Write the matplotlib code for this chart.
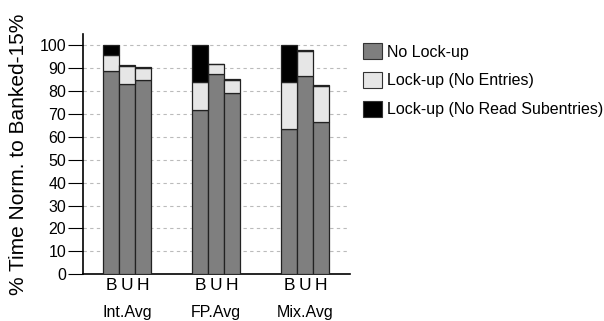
import numpy as np
import matplotlib.pyplot as plt
from matplotlib.patches import Patch

plt.rcParams['font.family'] = ['Liberation Sans', 'DejaVu Sans']

groups = ['Int.Avg', 'FP.Avg', 'Mix.Avg']
configs = ['B', 'U', 'H']

# stacked components per group, ordered B, U, H
no_lockup = [[89.0, 83.3, 85.0], [71.6, 87.5, 79.4], [63.3, 86.6, 66.5]]
lockup_no_entries = [[7.0, 7.5, 5.1], [12.4, 4.2, 5.6], [20.7, 10.9, 15.7]]
lockup_no_subentries = [[4.0, 0.5, 0.4], [16.0, 0.4, 0.4], [16.0, 0.5, 0.5]]

series_names = ['No Lock-up', 'Lock-up (No Entries)', 'Lock-up (No Read Subentries)']
series_colors = ['#7f7f7f', '#e6e6e6', '#000000']

fig = plt.figure(figsize=(6.04, 3.21), dpi=100)
ax = fig.add_axes([0.137, 0.146, 0.442, 0.748])

width = 0.18
offsets = np.array([-1, 0, 1]) * width
for g in range(len(groups)):
    x = g + offsets
    bottom = np.zeros(3)
    for vals, col in zip([no_lockup, lockup_no_entries, lockup_no_subentries], series_colors):
        v = np.array(vals[g])
        ax.bar(x, v, width, bottom=bottom, color=col, edgecolor='#222222', linewidth=0.9, zorder=3)
        bottom += v

ax.set_xlim(-0.5, 2.5)
ax.set_ylim(0, 105)
ax.set_yticks(np.arange(0, 101, 10))
ax.tick_params(axis='y', labelsize=11.5, length=11, width=0.8, pad=1)
ax.yaxis.grid(True, linestyle=(0, (3, 3)), color='#bbbbbb', linewidth=0.8, zorder=0)
ax.set_axisbelow(True)

xt = np.concatenate([g + offsets for g in range(len(groups))])
ax.set_xticks(xt)
ax.set_xticklabels(configs * len(groups), fontsize=12.5)
ax.tick_params(axis='x', length=0, pad=3)
for g, name in enumerate(groups):
    ax.text(g, -13.5, name, ha='center', va='top', fontsize=11.5, transform=ax.transData)

for s in ['top', 'right']:
    ax.spines[s].set_visible(False)
ax.spines['left'].set_linewidth(1.2)
ax.spines['bottom'].set_linewidth(1.2)

ax.set_ylabel('% Time Norm. to Banked-15%', fontsize=15, labelpad=8)

handles = [Patch(facecolor=c, edgecolor='#333333', linewidth=0.8) for c in series_colors]
fig.legend(handles, series_names, loc='upper left', bbox_to_anchor=(0.578, 0.91),
           frameon=False, fontsize=11.5, handlelength=1.15, handleheight=1.15,
           labelspacing=0.78, handletextpad=0.3)

fig.savefig('out.png', dpi=100)
